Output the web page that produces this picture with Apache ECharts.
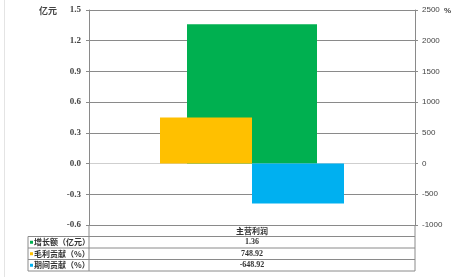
<!DOCTYPE html>
<html><head><meta charset="utf-8">
<script src="https://cdn.jsdelivr.net/npm/echarts@6/dist/echarts.min.js"></script>
<style>html,body{margin:0;padding:0;background:#fff}#c{width:460px;height:277px}</style>
</head><body><div id="c"></div>
<script>
var categories = ['主营利润'];
var seriesNames = ['增长额（亿元）', '毛利贡献（%）', '期间贡献（%）'];
var growth = [1.36];
var grossContrib = [748.92];
var periodContrib = [-648.92];
var leftTicks = [-0.6, 1.5, 0.3];
var rightTicks = [-1000, 2500, 500];
var axisNames = ['亿元', '%'];
var colors = ['#00B050', '#FFC000', '#00B0F0'];

var chart = echarts.init(document.getElementById('c'));
var labelFont = {fontFamily: 'Liberation Serif', fontWeight: 'bold', fontSize: 9, color: '#444'};
var gx0 = 89, gx1 = 415, gTop = 10, gBot = 225;
var rows = [236.5, 248, 259.5, 271];
var g = [];
for (var i = 0; i < rows.length; i++) {
  g.push({type: 'line', shape: {x1: 28, y1: rows[i], x2: gx1, y2: rows[i]}, style: {stroke: '#8a8a8a', lineWidth: 1}, z: 10});
}
g.push({type: 'line', shape: {x1: 28, y1: rows[0], x2: 28, y2: rows[3]}, style: {stroke: '#8a8a8a', lineWidth: 1}, z: 10});
g.push({type: 'line', shape: {x1: gx0, y1: gBot, x2: gx0, y2: rows[3]}, style: {stroke: '#8a8a8a', lineWidth: 1}, z: 10});
g.push({type: 'line', shape: {x1: gx1, y1: gBot, x2: gx1, y2: rows[3]}, style: {stroke: '#8a8a8a', lineWidth: 1}, z: 10});
g.push({type: 'line', shape: {x1: 4.5, y1: 0, x2: 4.5, y2: 277}, style: {stroke: '#e4e4e4', lineWidth: 1}});
g.push({type: 'text', x: 57, y: 11, style: {text: axisNames[0], fontFamily: 'Noto Sans CJK SC', fontWeight: 'bold', fontSize: 9, fill: '#444', textAlign: 'right', align: 'right', textVerticalAlign: 'middle', verticalAlign: 'middle'}});
g.push({type: 'text', x: 444, y: 11, style: {text: axisNames[1], fontFamily: 'Liberation Sans', fontWeight: 'bold', fontSize: 8, fill: '#444', textAlign: 'left', align: 'left', textVerticalAlign: 'middle', verticalAlign: 'middle'}});
var vals = [growth[0].toFixed(2), grossContrib[0].toFixed(2), periodContrib[0].toFixed(2)];
for (var j = 0; j < 3; j++) {
  var cy = (rows[j] + rows[j + 1]) / 2;
  g.push({type: 'rect', shape: {x: 30, y: cy - 1.5, width: 3, height: 3}, style: {fill: colors[j]}, z: 10});
  g.push({type: 'text', x: 34, y: cy, style: {text: seriesNames[j], fontFamily: 'Noto Sans CJK SC', fontWeight: 'bold', fontSize: 8, fill: '#333', textVerticalAlign: 'middle', verticalAlign: 'middle'}, z: 10});
  g.push({type: 'text', x: (gx0 + gx1) / 2, y: cy, style: {text: vals[j], fontFamily: 'Liberation Serif', fontWeight: 'bold', fontSize: 8, fill: '#333', textAlign: 'center', align: 'center', textVerticalAlign: 'middle', verticalAlign: 'middle'}, z: 10});
}

chart.setOption({
  animation: false,
  backgroundColor: '#fff',
  grid: {left: gx0, right: 460 - gx1, top: gTop, bottom: 277 - gBot, containLabel: false},
  xAxis: [
    {type: 'category', data: categories, position: 'bottom',
     axisLine: {show: false}, axisTick: {show: false},
     axisLabel: {margin: 1, lineHeight: 10, fontFamily: 'Noto Sans CJK SC', fontWeight: 'bold', fontSize: 8, color: '#333'}},
    {type: 'category', data: categories, show: false}
  ],
  yAxis: [
    {type: 'value', min: leftTicks[0], max: leftTicks[1], interval: leftTicks[2],
     axisLine: {show: true, lineStyle: {color: '#8a8a8a', width: 1}},
     axisTick: {show: true, length: 3, lineStyle: {color: '#8a8a8a'}},
     axisLabel: Object.assign({margin: 8, formatter: function (v) { return v.toFixed(1); }}, labelFont),
     splitLine: {show: true, lineStyle: {color: ['#8a8a8a', '#8a8a8a', '#cfcfcf', '#8a8a8a', '#8a8a8a', '#8a8a8a', '#8a8a8a', '#8a8a8a'], width: 1}}},
    {type: 'value', min: rightTicks[0], max: rightTicks[1], interval: rightTicks[2], position: 'right',
     axisLine: {show: true, lineStyle: {color: '#8a8a8a', width: 1}},
     axisTick: {show: true, length: 3, lineStyle: {color: '#8a8a8a'}},
     axisLabel: {margin: 7, formatter: function (v) { return String(v); }, fontFamily: 'Liberation Sans', fontSize: 8, color: '#444'},
     splitLine: {show: false}}
  ],
  series: [
    {name: seriesNames[0], type: 'bar', xAxisIndex: 0, yAxisIndex: 0, data: growth, barWidth: 130, itemStyle: {color: colors[0]}},
    {name: seriesNames[1], type: 'bar', xAxisIndex: 1, yAxisIndex: 1, data: grossContrib, barWidth: 92, barGap: '0%', itemStyle: {color: colors[1]}},
    {name: seriesNames[2], type: 'bar', xAxisIndex: 1, yAxisIndex: 1, data: periodContrib, barWidth: 92, barGap: '0%', itemStyle: {color: colors[2]}}
  ],
  graphic: g
});
</script></body></html>
